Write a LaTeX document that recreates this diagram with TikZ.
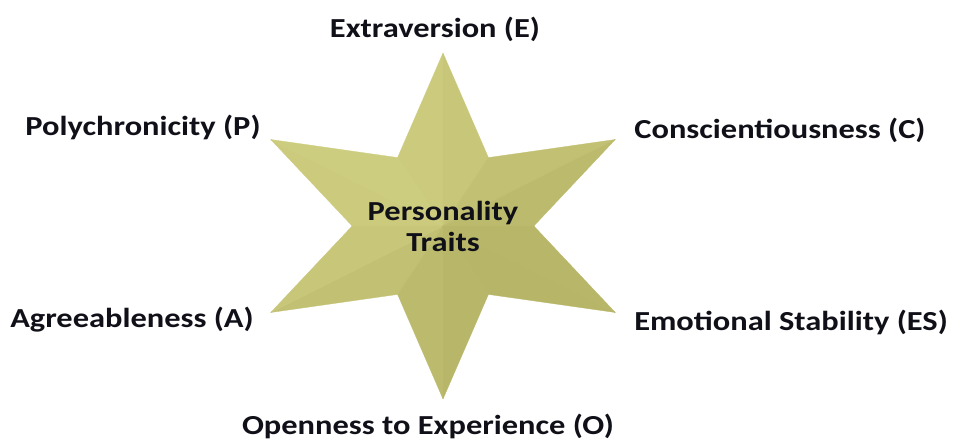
\documentclass[tikz,border=0pt]{standalone}
\usepackage{fontspec}
\setmainfont[FakeStretch=1.18]{Carlito}
\usetikzlibrary{calc}

\definecolor{starlight}{RGB}{214,214,136}
\definecolor{stardark}{RGB}{174,172,94}
\definecolor{traitink}{RGB}{16,16,24}

\begin{document}
\begin{tikzpicture}[x=1pt,y=-1pt,
  traitname/.style={font=\fontsize{27.5}{31}\selectfont\bfseries,text=traitink,inner sep=0pt},
  facet/.style={fill=#1,draw=#1,line width=0.3pt,line join=round}]
  \useasboundingbox (0,0) rectangle (959,441);
  % star: tips t0..t5, inner corners n0..n5
  \coordinate (c) at (443,226);
  \foreach \i in {0,...,5} {
    \coordinate (t\i) at ($(c)+({1.15*173*cos(90+60*\i)},{-173*sin(90+60*\i)})$);
    \coordinate (n\i) at ($(c)+({1.15*79*cos(120+60*\i)},{-79*sin(120+60*\i)})$);
  }
  \foreach \i in {0,...,5} {
    \pgfmathtruncatemacro\j{mod(\i+5,6)}
    \pgfmathtruncatemacro\sa{50+28*cos(105+60*\i-135)}
    \pgfmathtruncatemacro\sb{50+28*cos(75+60*\i-135)}
    \fill[facet=starlight!\sa!stardark] (c) -- (t\i) -- (n\i) -- cycle;
    \fill[facet=starlight!\sb!stardark] (c) -- (t\i) -- (n\j) -- cycle;
  }
  \node[traitname,align=center] (pers) at (c) {Personality\\Traits};
  % trait labels
  \node[traitname] (ext) at (435,29) {Extraversion (E)};
  \node[traitname] (poly) at (143,127) {Polychronicity (P)};
  \node[traitname] (consc) at (780,130) {Conscientiousness (C)};
  \node[traitname] (agree) at (132,320) {Agreeableness (A)};
  \node[traitname] (emo) at (791,322) {Emotional Stability (ES)};
  \node[traitname] (open) at (428,426) {Openness to Experience (O)};
\end{tikzpicture}
\end{document}
